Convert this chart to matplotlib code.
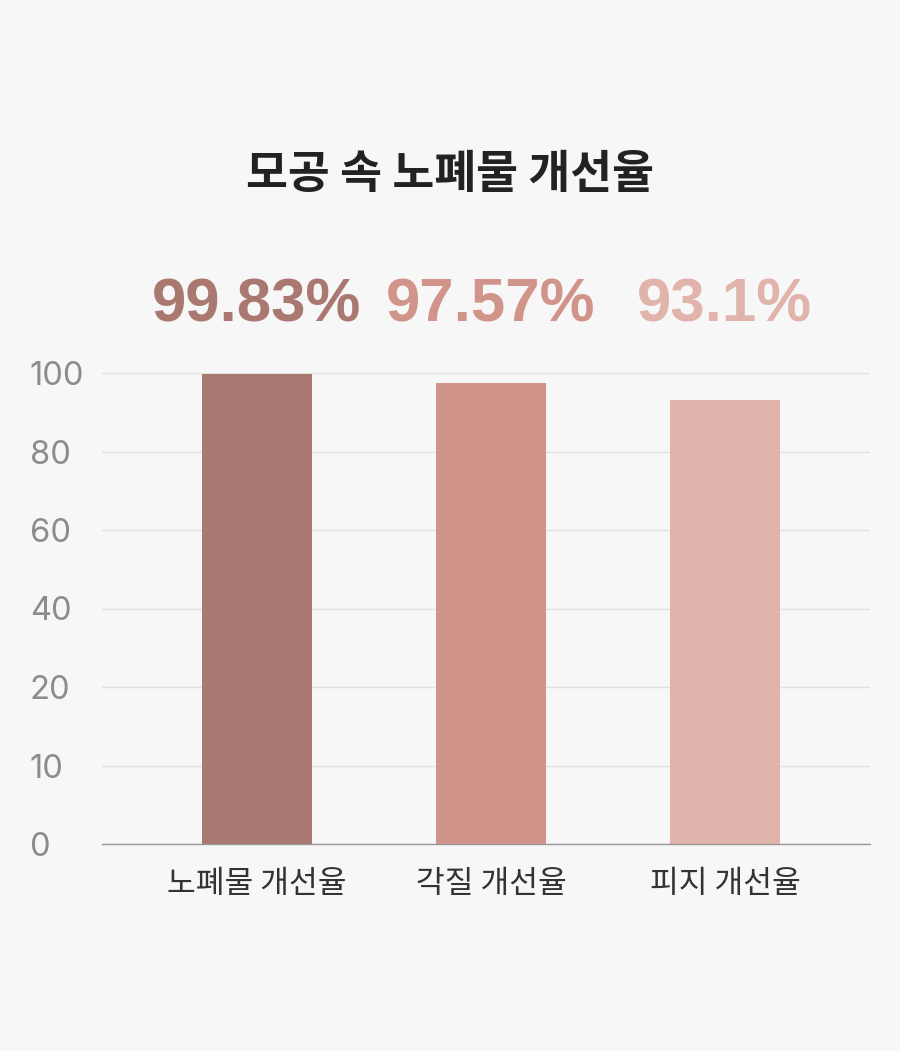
import numpy as np
import matplotlib
matplotlib.use("Agg")
import matplotlib.pyplot as plt
from matplotlib.transforms import blended_transform_factory

# data
categories = ["노폐물 개선율", "각질 개선율", "피지 개선율"]
values = [99.83, 97.57, 93.1]
value_labels = ["99.83%", "97.57%", "93.1%"]
tick_values = [0, 10, 20, 40, 60, 80, 100]
title = "모공 속 노폐물 개선율"

colors = ["#a97870", "#d0948b", "#e0b3ab"]
bg = "#f7f7f7"

plt.rcParams['font.family'] = ['Noto Sans CJK KR', 'DejaVu Sans']

# axis ticks are evenly spaced even though the steps are not
tick_pos = np.arange(len(tick_values), dtype=float)

def forward(y):
    return np.interp(y, tick_values, tick_pos)

def inverse(y):
    return np.interp(y, tick_pos, tick_values)

fig = plt.figure(figsize=(9, 10.51), dpi=100, facecolor=bg)
ax = fig.add_axes([102 / 900, 1 - 844 / 1051, 768 / 900, (844 - 373) / 1051])
ax.set_facecolor(bg)
ax.set_yscale('function', functions=(forward, inverse))

x = np.arange(len(categories))
ax.bar(x, values, width=0.47, color=colors, zorder=2)

ax.set_xlim(-0.662, 2.62)
ax.set_ylim(0, 100)
ax.set_yticks(tick_values)
ax.set_yticklabels([str(t) for t in tick_values], family='Inter', fontsize=23.5,
                   color='#8c8c8c', ha='left')
ax.tick_params(axis='y', length=0, pad=52)
ax.set_xticks(x)
ax.set_xticklabels(categories, fontsize=22.5, color='#333333')
ax.tick_params(axis='x', length=0, pad=17)

ax.grid(axis='y', color='#e2e2e2', linewidth=1, zorder=0)
for s in ['top', 'right', 'left']:
    ax.spines[s].set_visible(False)
ax.spines['bottom'].set_color('#999999')
ax.spines['bottom'].set_linewidth(1)
ax.spines['bottom'].set_zorder(3)

# value labels above the plot
trans = blended_transform_factory(ax.transData, fig.transFigure)
for xi, lab, c in zip(x, value_labels, colors):
    ax.text(xi, 1 - 322 / 1051, lab, transform=trans, ha='center', va='baseline',
            family='Liberation Sans', fontweight='bold', fontsize=44.5, color=c)

fig.text(0.5, 1 - 175 / 1051, title, ha='center', va='center',
         fontsize=32.8, fontweight='bold', color='#222222')

fig.savefig("out.png", dpi=100, facecolor=bg)
